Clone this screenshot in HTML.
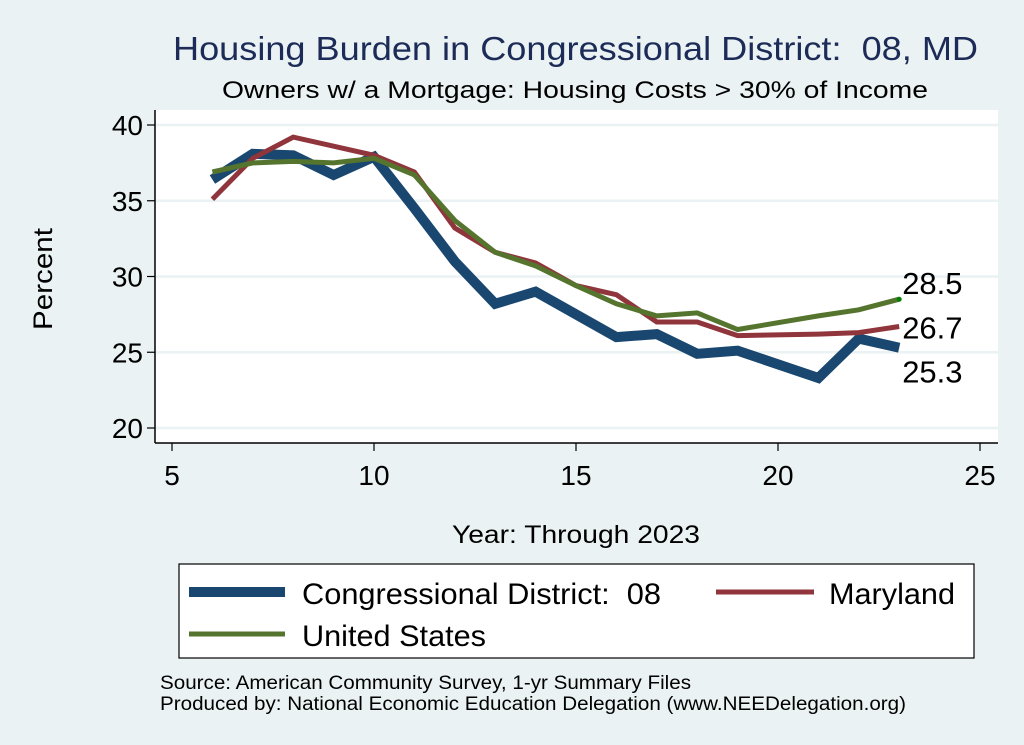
<!DOCTYPE html>
<html><head><meta charset="utf-8"><style>
html,body{margin:0;padding:0;background:#eaf2f3;}
svg{display:block;font-family:"Liberation Sans",Arial,sans-serif;}
</style></head><body>
<svg id="chart" width="1024" height="745" viewBox="0 0 1024 745">
<rect x="0" y="0" width="1024" height="745" fill="#eaf2f3"/>
<text x="173" y="60" font-size="33" fill="#1c2b57" textLength="805" lengthAdjust="spacingAndGlyphs">Housing Burden in Congressional District:&#160; 08, MD</text>
<text x="222" y="98" font-size="24" fill="#000" textLength="706" lengthAdjust="spacingAndGlyphs">Owners w/ a Mortgage: Housing Costs &gt; 30% of Income</text>
<rect x="155" y="110" width="843" height="333" fill="#fff"/>
<g id="grid"></g>
<line x1="155" y1="110" x2="155" y2="443" stroke="#000" stroke-width="1.5"/>
<line x1="155" y1="443" x2="998" y2="443" stroke="#000" stroke-width="1.5"/>
<g id="axes"></g>
<g id="series"></g>
<text x="52" y="279" text-anchor="middle" font-size="27" textLength="102" lengthAdjust="spacingAndGlyphs" transform="rotate(-90 52 279)">Percent</text>
<text x="452" y="543" font-size="25" textLength="248" lengthAdjust="spacingAndGlyphs">Year: Through 2023</text>
<g>
<rect x="179" y="564" width="795" height="94" fill="#fff" stroke="#000" stroke-width="1.2"/>
<line x1="189" y1="592" x2="285" y2="592" stroke="#1a476f" stroke-width="10"/>
<text x="302" y="604" font-size="30" textLength="359" lengthAdjust="spacingAndGlyphs">Congressional District:&#160; 08</text>
<line x1="716" y1="592" x2="814" y2="592" stroke="#90353b" stroke-width="5"/>
<text x="829" y="604" font-size="30" textLength="126" lengthAdjust="spacingAndGlyphs">Maryland</text>
<line x1="189" y1="634" x2="285" y2="634" stroke="#55752f" stroke-width="5"/>
<text x="302" y="646" font-size="30" textLength="184" lengthAdjust="spacingAndGlyphs">United States</text>
</g>
<text x="160" y="689" font-size="19" textLength="531" lengthAdjust="spacingAndGlyphs">Source: American Community Survey, 1-yr Summary Files</text>
<text x="160" y="710" font-size="19" textLength="746" lengthAdjust="spacingAndGlyphs">Produced by: National Economic Education Delegation (www.NEEDelegation.org)</text>
</svg>
<script>
const years = [6,7,8,9,10,11,12,13,14,15,16,17,18,19,21,22,23];
const districtVals = [36.4,38.1,38.0,36.7,37.9,34.5,31.0,28.2,29.0,27.5,26.0,26.2,24.9,25.1,23.3,25.9,25.3];
const marylandVals = [35.1,37.8,39.2,38.6,38.0,36.9,33.2,31.6,30.9,29.4,28.8,27.0,27.0,26.1,26.2,26.3,26.7];
const usVals = [36.9,37.5,37.6,37.5,37.8,36.7,33.7,31.6,30.7,29.4,28.2,27.4,27.6,26.5,27.4,27.8,28.5];
const xTicks = [5,10,15,20,25];
const yTicks = [20,25,30,35,40];

const NS = "http://www.w3.org/2000/svg";
function xs(v){ return 172 + (v-5)*40.4; }
function ys(v){ return 125 + (40-v)*15.15; }
function mk(tag, attrs, parent){
  const e = document.createElementNS(NS, tag);
  for (const k in attrs) e.setAttribute(k, attrs[k]);
  parent.appendChild(e); return e;
}
const grid = document.getElementById('grid');
const axes = document.getElementById('axes');
const series = document.getElementById('series');
yTicks.forEach(t => {
  const g = mk('line',{x1:156,x2:998,y1:ys(t),y2:ys(t),stroke:'#eaf2f3','stroke-width':2.5},grid);
  
  
  const tk = mk('line',{x1:147,x2:155,y1:ys(t),y2:ys(t),stroke:'#000','stroke-width':1.2},axes);
  
  
  const lb = mk('text',{x:143,y:ys(t)+10,'text-anchor':'end','font-size':28},axes);
  lb.textContent = t;
  
  
});
xTicks.forEach(t => {
  const tk = mk('line',{x1:xs(t),x2:xs(t),y1:443,y2:451,stroke:'#000','stroke-width':1.2},axes);
  
  
  const lb = mk('text',{x:xs(t),y:485,'text-anchor':'middle','font-size':28},axes);
  lb.textContent = t;
  
  
});
function drawLine(vals, color, w, name){
  const pts = years.map((y,i)=>xs(y).toFixed(1)+','+ys(vals[i]).toFixed(1)).join(' ');
  const p = mk('polyline',{points:pts,fill:'none',stroke:color,'stroke-width':w,'stroke-linejoin':'miter'},series);
  
  
}
drawLine(districtVals,'#1a476f',10,'line-district');
drawLine(marylandVals,'#90353b',5,'line-maryland');
drawLine(usVals,'#55752f',5,'line-us');
const lastX = xs(years[years.length-1]);
const dot = mk('circle',{cx:lastX,cy:ys(usVals[usVals.length-1]),r:2.5,fill:'#008000'},series);


function endLabel(v, dy, name){
  const t = mk('text',{x:lastX+3,y:ys(v)+dy,'font-size':31},series);
  t.textContent = v.toFixed(1);
  
  
}
endLabel(usVals[usVals.length-1], -5, 'end-label-us');
endLabel(marylandVals[marylandVals.length-1], 12, 'end-label-maryland');
endLabel(districtVals[districtVals.length-1], 35, 'end-label-district');
</script>
</body></html>
